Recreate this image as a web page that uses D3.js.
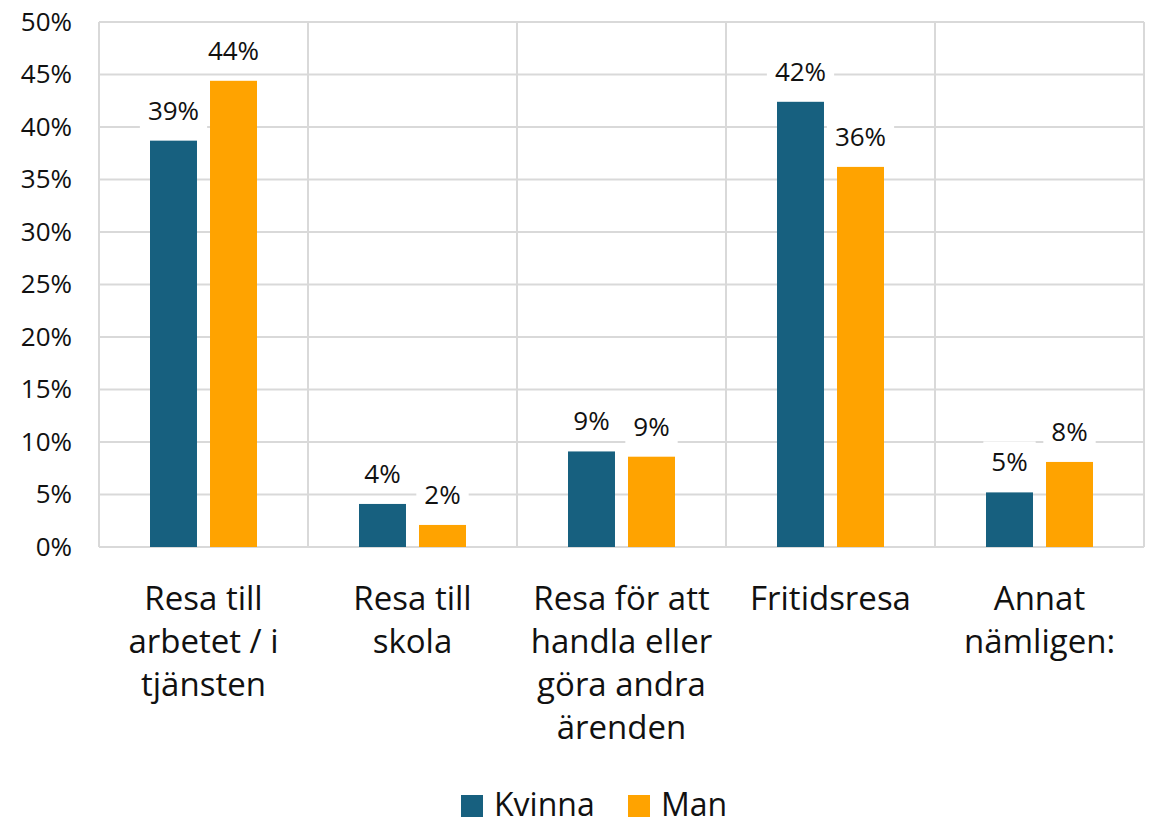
<!DOCTYPE html>
<html>
<head>
<meta charset="utf-8">
<script src="https://cdn.jsdelivr.net/npm/d3@7"></script>
<style>
  body { margin: 0; background: #fff; }
  text { font-family: "Open Sans", "Noto Sans", sans-serif; fill: #111; }
</style>
</head>
<body>
<script>
// Data
const categories = [
  ["Resa till", "arbetet / i", "tjänsten"],
  ["Resa till", "skola"],
  ["Resa för att", "handla eller", "göra andra", "ärenden"],
  ["Fritidsresa"],
  ["Annat", "nämligen:"]
];
const seriesNames = ["Kvinna", "Man"];
const kvinna = [38.7, 4.1, 9.1, 42.4, 5.2];
const man = [44.4, 2.1, 8.6, 36.2, 8.1];
const labelsKvinna = ["39%", "4%", "9%", "42%", "5%"];
const labelsMan = ["44%", "2%", "9%", "36%", "8%"];
const yTicks = [0, 5, 10, 15, 20, 25, 30, 35, 40, 45, 50];
const colors = ["#17607f", "#ffa300"];

const width = 1152, height = 824;
const margin = { top: 22, left: 99, right: 8, bottom: 277 };

const svg = d3
  .select("body")
  .append("svg")
  .attr("width", width)
  .attr("height", height);

const x = d3
  .scaleBand()
  .domain(d3.range(categories.length))
  .range([margin.left, width - margin.right]);

const y = d3
  .scaleLinear()
  .domain([0, 50])
  .range([height - margin.bottom, margin.top]);

const groupW = 107;
const x1 = d3.scaleBand().domain([0, 1]).range([0, groupW]).paddingInner(0.217);

// Gridlines
svg
  .append("g")
  .selectAll("line")
  .data(yTicks)
  .join("line")
  .attr("x1", margin.left)
  .attr("x2", width - margin.right)
  .attr("y1", (d) => y(d))
  .attr("y2", (d) => y(d))
  .attr("stroke", "#d9d9d9")
  .attr("stroke-width", 2);

const bounds = d3.range(categories.length + 1).map((i) =>
  i < categories.length ? x(i) : x(i - 1) + x.bandwidth()
);
svg
  .append("g")
  .selectAll("line")
  .data(bounds)
  .join("line")
  .attr("x1", (d) => d)
  .attr("x2", (d) => d)
  .attr("y1", y(50))
  .attr("y2", y(0))
  .attr("stroke", "#d9d9d9")
  .attr("stroke-width", 2);

// Y axis labels
const yAxis = d3
  .axisLeft(y)
  .tickValues(yTicks)
  .tickSize(0)
  .tickPadding(27)
  .tickFormat((d) => d + "%");
svg
  .append("g")
  .attr("transform", `translate(${margin.left},0)`)
  .call(yAxis)
  .call((g) => g.select(".domain").remove())
  .selectAll("text")
  .style("font-size", "26px")
  .attr("fill", "#111");

// Bars + labels
const series = [kvinna, man];
const labels = [labelsKvinna, labelsMan];

series.forEach((vals, s) => {
  const g = svg.append("g");
  vals.forEach((v, i) => {
    const bx = x(i) + (x.bandwidth() - groupW) / 2 + x1(s);
    g.append("rect")
      .attr("x", bx)
      .attr("y", y(v))
      .attr("width", x1.bandwidth())
      .attr("height", y(0) - y(v))
      .attr("fill", colors[s]);
  });
});

series.forEach((vals, s) => {
  vals.forEach((v, i) => {
    const cx = x(i) + (x.bandwidth() - groupW) / 2 + x1(s) + x1.bandwidth() / 2;
    const t = svg
      .append("text")
      .attr("x", cx)
      .attr("y", y(v) - 21)
      .attr("text-anchor", "middle")
      .style("font-size", "26px")
      .text(labels[s][i]);
    const bb = t.node().getBBox();
    svg
      .insert("rect", () => t.node())
      .attr("x", bb.x - 8)
      .attr("y", bb.y - 2)
      .attr("width", bb.width + 16)
      .attr("height", bb.height + 4)
      .attr("fill", "#fff");
  });
});

// Category labels
categories.forEach((lines, i) => {
  const t = svg
    .append("text")
    .attr("x", x(i) + x.bandwidth() / 2)
    .attr("y", 610)
    .attr("text-anchor", "middle")
    .style("font-size", "33px");
  lines.forEach((l, j) => {
    t.append("tspan")
      .attr("x", x(i) + x.bandwidth() / 2)
      .attr("dy", j === 0 ? 0 : 43)
      .text(l);
  });
});

// Legend
const legend = svg.append("g").attr("transform", "translate(461,795)");
const legendX = [0, 167];
seriesNames.forEach((n, s) => {
  const g = legend.append("g").attr("transform", `translate(${legendX[s]},0)`);
  g.append("rect").attr("width", 22).attr("height", 22).attr("fill", colors[s]);
  g.append("text")
    .attr("x", 33)
    .attr("y", 21)
    .style("font-size", "32px")
    .text(n);
});
</script>
</body>
</html>
